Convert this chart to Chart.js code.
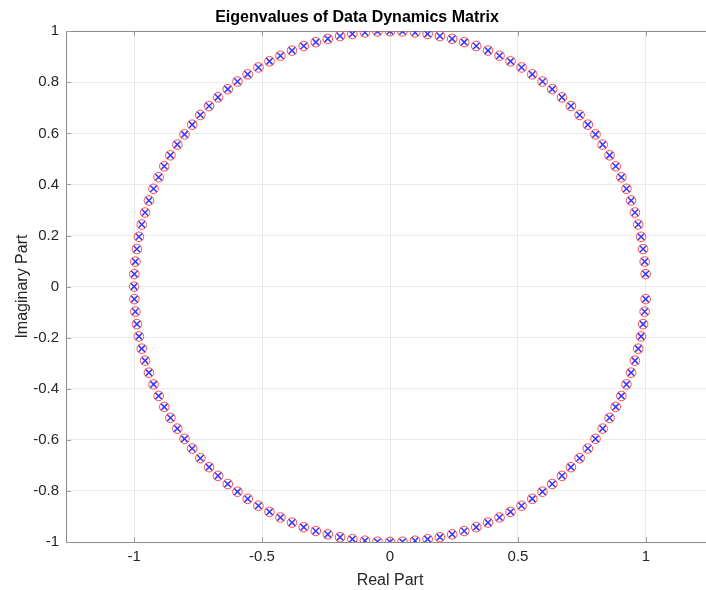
<!DOCTYPE html>
<html>
<head>
<meta charset="utf-8">
<script src="https://cdn.jsdelivr.net/npm/chart.js@4.4.1/dist/chart.umd.min.js"></script>
<style>
    html, body { margin: 0; padding: 0; background: #fff; overflow: hidden; }
    #wrap { width: 780px; height: 590px; }
</style>
</head>
<body>
<div id="wrap"><canvas id="eig-chart" width="780" height="590"></canvas></div>
<script>
// Eigenvalues (real and imaginary parts)
const realPart = [
    0.999, 0.995, 0.989, 0.981, 0.970, 0.957, 0.942, 0.924, 0.904, 0.882, 0.858, 0.831, 0.803, 0.773, 0.741, 0.707,
    0.672, 0.634, 0.596, 0.556, 0.514, 0.471, 0.428, 0.383, 0.337, 0.290, 0.243, 0.195, 0.147, 0.098, 0.049, 0,
    -0.049, -0.098, -0.147, -0.195, -0.243, -0.290, -0.337, -0.383, -0.428, -0.471, -0.514, -0.556, -0.596, -0.634, -0.672, -0.707,
    -0.741, -0.773, -0.803, -0.831, -0.858, -0.882, -0.904, -0.924, -0.942, -0.957, -0.970, -0.981, -0.989, -0.995, -0.999, -1,
    -0.999, -0.995, -0.989, -0.981, -0.970, -0.957, -0.942, -0.924, -0.904, -0.882, -0.858, -0.831, -0.803, -0.773, -0.741, -0.707,
    -0.672, -0.634, -0.596, -0.556, -0.514, -0.471, -0.428, -0.383, -0.337, -0.290, -0.243, -0.195, -0.147, -0.098, -0.049, 0,
    0.049, 0.098, 0.147, 0.195, 0.243, 0.290, 0.337, 0.383, 0.428, 0.471, 0.514, 0.556, 0.596, 0.634, 0.672, 0.707,
    0.741, 0.773, 0.803, 0.831, 0.858, 0.882, 0.904, 0.924, 0.942, 0.957, 0.970, 0.981, 0.989, 0.995, 0.999
];
const imagPart = [
    0.049, 0.098, 0.147, 0.195, 0.243, 0.290, 0.337, 0.383, 0.428, 0.471, 0.514, 0.556, 0.596, 0.634, 0.672, 0.707,
    0.741, 0.773, 0.803, 0.831, 0.858, 0.882, 0.904, 0.924, 0.942, 0.957, 0.970, 0.981, 0.989, 0.995, 0.999, 1,
    0.999, 0.995, 0.989, 0.981, 0.970, 0.957, 0.942, 0.924, 0.904, 0.882, 0.858, 0.831, 0.803, 0.773, 0.741, 0.707,
    0.672, 0.634, 0.596, 0.556, 0.514, 0.471, 0.428, 0.383, 0.337, 0.290, 0.243, 0.195, 0.147, 0.098, 0.049, 0,
    -0.049, -0.098, -0.147, -0.195, -0.243, -0.290, -0.337, -0.383, -0.428, -0.471, -0.514, -0.556, -0.596, -0.634, -0.672, -0.707,
    -0.741, -0.773, -0.803, -0.831, -0.858, -0.882, -0.904, -0.924, -0.942, -0.957, -0.970, -0.981, -0.989, -0.995, -0.999, -1,
    -0.999, -0.995, -0.989, -0.981, -0.970, -0.957, -0.942, -0.924, -0.904, -0.882, -0.858, -0.831, -0.803, -0.773, -0.741, -0.707,
    -0.672, -0.634, -0.596, -0.556, -0.514, -0.471, -0.428, -0.383, -0.337, -0.290, -0.243, -0.195, -0.147, -0.098, -0.049
];

const xTicks = [-1, -0.5, 0, 0.5, 1];
const yTicks = [-1, -0.8, -0.6, -0.4, -0.2, 0, 0.2, 0.4, 0.6, 0.8, 1];

const points = realPart.map((re, i) => ({ x: re, y: imagPart[i] }));

const fontFamily = "Helvetica, Arial, 'Liberation Sans', sans-serif";
const axisColor = '#8a8a8a';

// MATLAB style box with inward ticks
const boxPlugin = {
    id: 'boxPlugin',
    beforeDatasetsDraw(chart) {
        const { ctx, chartArea: a, scales } = chart;
        ctx.save();
        ctx.strokeStyle = axisColor;
        ctx.lineWidth = 1;
        ctx.beginPath();
        ctx.rect(Math.round(a.left) + 0.5, Math.round(a.top) + 0.5,
            Math.round(a.right - a.left), Math.round(a.bottom - a.top));
        ctx.stroke();
        ctx.strokeStyle = '#a0a0a0';
        ctx.beginPath();
        xTicks.forEach(v => {
            const px = Math.round(scales.x.getPixelForValue(v)) + 0.5;
            ctx.moveTo(px, a.bottom); ctx.lineTo(px, a.bottom - 5);
            ctx.moveTo(px, a.top); ctx.lineTo(px, a.top + 5);
        });
        yTicks.forEach(v => {
            const py = Math.round(scales.y.getPixelForValue(v)) + 0.5;
            ctx.moveTo(a.left, py); ctx.lineTo(a.left + 5, py);
            ctx.moveTo(a.right, py); ctx.lineTo(a.right - 5, py);
        });
        ctx.stroke();
        ctx.restore();
    }
};

const ctx = document.getElementById('eig-chart').getContext('2d');
new Chart(ctx, {
    type: 'scatter',
    data: {
        datasets: [{
            label: 'Eigenvalues (o)',
            data: points,
            pointStyle: 'circle',
            pointRadius: 4.8,
            backgroundColor: 'rgba(0,0,0,0)',
            borderColor: '#ff4a4a',
            pointBorderWidth: 1
        }, {
            label: 'Eigenvalues (x)',
            data: points,
            pointStyle: 'crossRot',
            pointRadius: 5,
            borderColor: '#3636ff',
            pointBorderWidth: 1.5
        }]
    },
    plugins: [boxPlugin],
    options: {
        responsive: false,
        animation: false,
        layout: { padding: { left: 0, right: 66, top: 0, bottom: 0 } },
        plugins: {
            legend: { display: false },
            tooltip: { enabled: false },
            title: {
                display: true,
                text: 'Eigenvalues of Data Dynamics Matrix',
                color: '#000',
                font: { family: fontFamily, size: 16, weight: 'bold' },
                padding: { top: 8, bottom: 4 }
            }
        },
        scales: {
            x: {
                type: 'linear',
                min: -1.266,
                max: 1.266,
                afterBuildTicks(scale) { scale.ticks = xTicks.map(v => ({ value: v })); },
                afterFit(scale) { scale.height = 48; },
                ticks: {
                    color: '#262626',
                    font: { family: fontFamily, size: 15 },
                    padding: 6,
                    callback: v => String(v)
                },
                grid: { color: '#ebebeb', drawTicks: false },
                border: { display: false },
                title: {
                    display: true,
                    text: 'Real Part',
                    color: '#262626',
                    font: { family: fontFamily, size: 16 },
                    padding: { top: 0, bottom: 0 }
                }
            },
            y: {
                type: 'linear',
                min: -1,
                max: 1,
                afterBuildTicks(scale) { scale.ticks = yTicks.map(v => ({ value: v })); },
                afterFit(scale) { scale.width = 66; },
                ticks: {
                    color: '#262626',
                    font: { family: fontFamily, size: 15 },
                    padding: 7,
                    callback: v => String(Math.round(v * 10) / 10)
                },
                grid: { color: '#ebebeb', drawTicks: false },
                border: { display: false },
                title: {
                    display: true,
                    text: 'Imaginary Part',
                    color: '#262626',
                    font: { family: fontFamily, size: 16 },
                    padding: { top: 13, bottom: 0 }
                }
            }
        }
    }
});
</script>
</body>
</html>
